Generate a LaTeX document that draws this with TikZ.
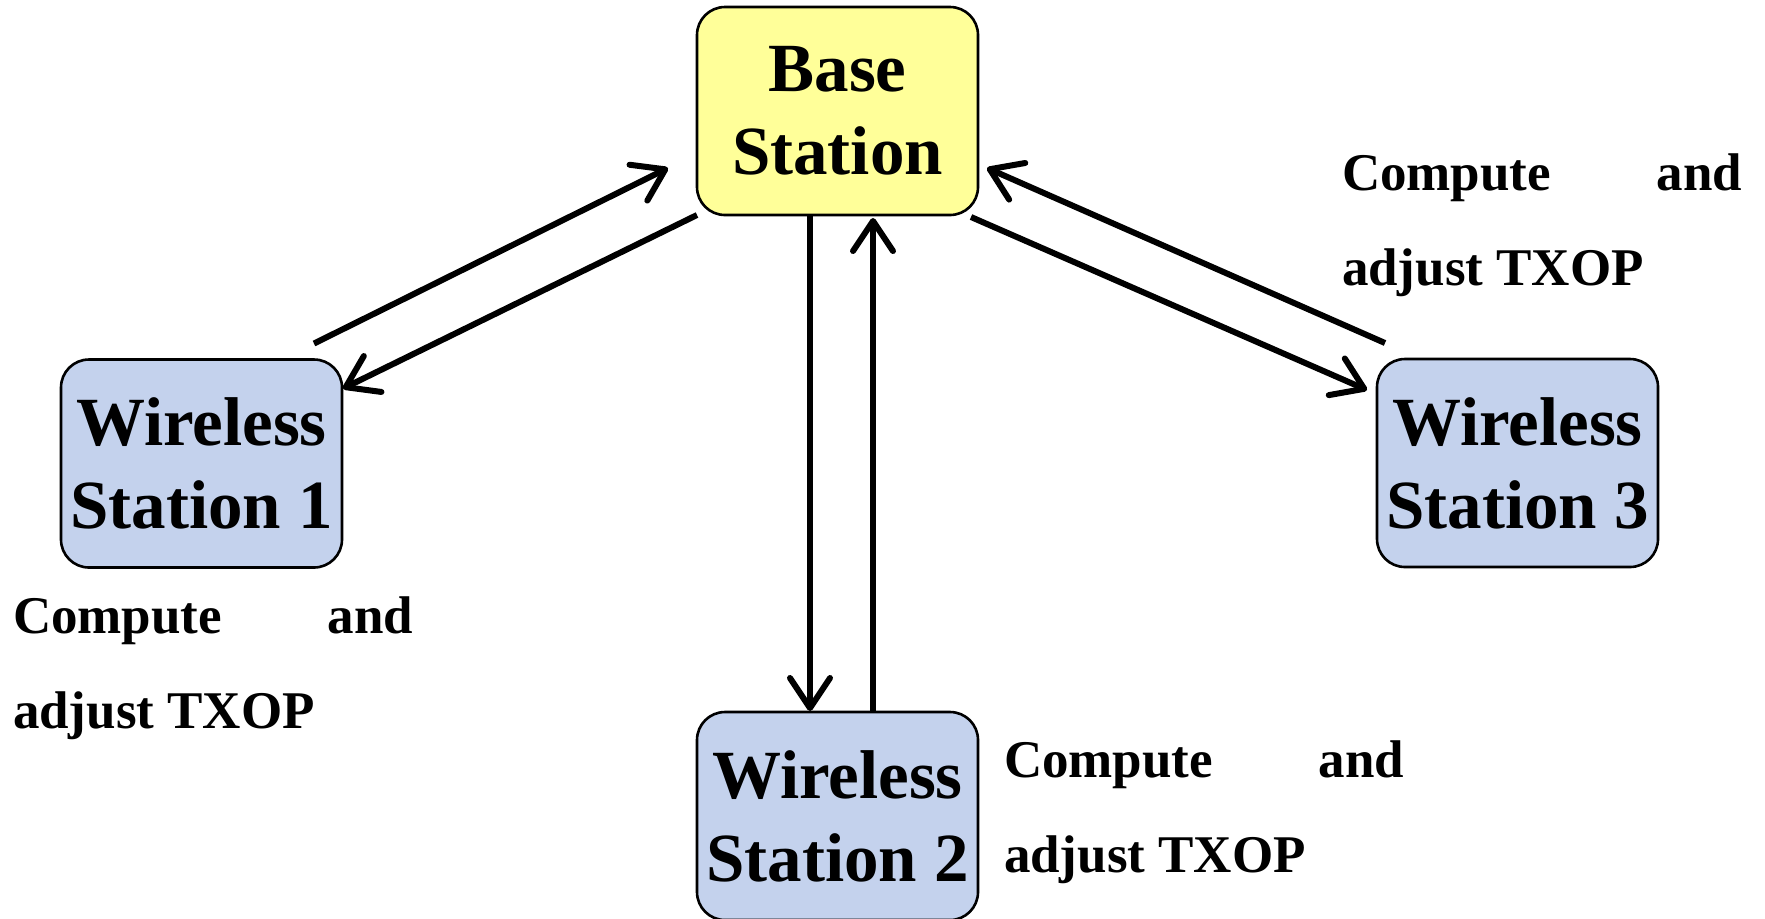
\documentclass[tikz,border=0pt]{standalone}
\usepackage{fontspec}
\setmainfont{Liberation Serif}
\usetikzlibrary{arrows.meta}
\definecolor{byellow}{RGB}{255,255,153}
\definecolor{wblue}{RGB}{196,210,237}
\begin{document}
\begin{tikzpicture}[x=0.5pt,y=-0.5pt,
  stbox/.style={draw=black, line width=1.3pt, rounded corners=14pt, minimum width=140.5pt, minimum height=104pt, inner sep=0pt, outer sep=0pt, align=center, font=\fontsize{34.5}{41.5}\selectfont\bfseries},
  conn/.style={line width=3pt, -{Straight Barb[length=15pt,width=20pt,line cap=round,line join=round]}},
  lab/.style={anchor=base west, inner sep=0pt, outer sep=0pt, font=\fontsize{26.5}{47.5}\selectfont\bfseries}]
\useasboundingbox (0,0) rectangle (1765,918);
\node[stbox, fill=byellow] (base) at (837.5,111) {Base\\Station};
\node[stbox, fill=wblue] (ws1) at (201.5,463.5) {Wireless\\Station 1};
\node[stbox, fill=wblue] (ws2) at (837.5,816) {Wireless\\Station 2};
\node[stbox, fill=wblue] (ws3) at (1517.5,463) {Wireless\\Station 3};
\node[lab] (lab1) at (13,633) {\vtop{\hsize=200pt\hbox to\hsize{Compute\hfill and}\hbox{adjust TXOP}}};
\node[lab] (lab2) at (1004,777) {\vtop{\hsize=200pt\hbox to\hsize{Compute\hfill and}\hbox{adjust TXOP}}};
\node[lab] (lab3) at (1342,190) {\vtop{\hsize=200pt\hbox to\hsize{Compute\hfill and}\hbox{adjust TXOP}}};
\draw[conn] ([shift={(-28,-16)}]ws1.north east) -- ([shift={(-29,-47)}]base.south west);
\draw[conn] (base.south west) -- ([shift={(1,29)}]ws1.north east);
\draw[conn] ([shift={(-27.5,0)}]base.south) -- ([shift={(-27.5,-1)}]ws2.north);
\draw[conn] ([shift={(35.5,0)}]ws2.north) -- ([shift={(35.5,3)}]base.south);
\draw[conn] ([shift={(8,-16)}]ws3.north west) -- ([shift={(9,-47)}]base.south east);
\draw[conn] ([shift={(-7,2)}]base.south east) -- ([shift={(-10,31)}]ws3.north west);
\end{tikzpicture}
\end{document}
